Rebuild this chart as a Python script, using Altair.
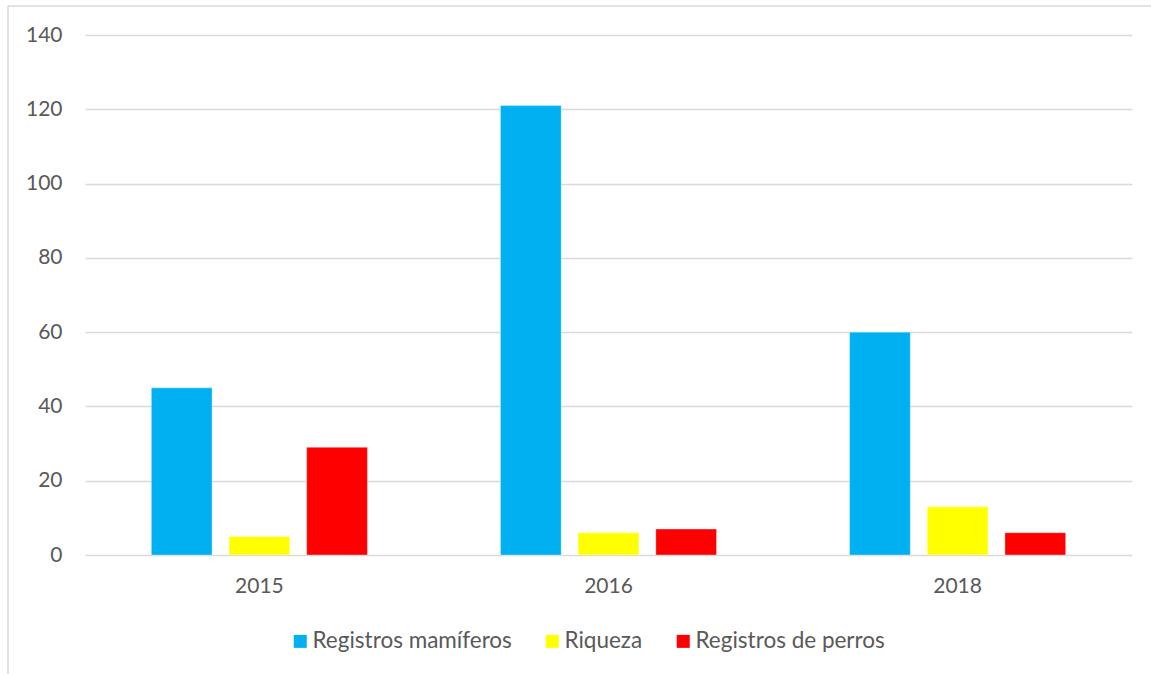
import altair as alt
import pandas as pd

years = ["2015", "2016", "2018"]
series = ["Registros mamíferos", "Riqueza", "Registros de perros"]
mamiferos = [45, 121, 60]
riqueza = [5, 6, 13]
perros = [29, 7, 6]
colors = ["#00B0F0", "#FFFF00", "#FF0000"]

rows = []
for i, y in enumerate(years):
    for s, vals in zip(series, [mamiferos, riqueza, perros]):
        rows.append({"year": y, "serie": s, "valor": vals[i]})
df = pd.DataFrame(rows)

FONT = "Lato"
TXT = "#595959"

bars = alt.Chart(df).mark_bar(stroke="white", strokeOpacity=0.35, strokeWidth=1).encode(
    x=alt.X("year:N", sort=years, title=None,
            scale=alt.Scale(paddingInner=0.381, paddingOuter=0.19),
            axis=alt.Axis(labelAngle=0, domain=False, ticks=False, labelPadding=20,
                          labelFontSize=21, labelColor=TXT, labelFont=FONT, grid=False)),
    xOffset=alt.XOffset("serie:N", sort=series,
                        scale=alt.Scale(paddingInner=0.218, paddingOuter=0)),
    y=alt.Y("valor:Q", title=None,
            scale=alt.Scale(domain=[0, 140]),
            axis=alt.Axis(values=[0, 20, 40, 60, 80, 100, 120, 140], domain=False, ticks=False,
                          labelPadding=23, labelFontSize=21, labelColor=TXT, labelFont=FONT,
                          gridColor="#D9D9D9", gridWidth=1.5)),
    color=alt.Color("serie:N", sort=series,
                    scale=alt.Scale(domain=series, range=colors),
                    legend=alt.Legend(title=None, orient="none", direction="horizontal",
                                      legendX=204, legendY=595, symbolType="square",
                                      symbolSize=169, symbolStrokeWidth=0, labelFontSize=22.5,
                                      labelColor=TXT, labelFont=FONT, labelOffset=1,
                                      labelLimit=0, columnPadding=29)),
)

border = alt.Chart(pd.DataFrame({"k": [0]})).mark_rule(color="#D9D9D9", strokeWidth=1.5).encode(
    x=alt.value(-77), x2=alt.value(-77), y=alt.value(-29), y2=alt.value(645)
)
border_top = alt.Chart(pd.DataFrame({"k": [0]})).mark_rule(color="#D9D9D9", strokeWidth=1.5).encode(
    x=alt.value(-77), x2=alt.value(1100), y=alt.value(-29), y2=alt.value(-29)
)

chart = alt.layer(border, border_top, bars).properties(
    width=1047, height=520,
    background="white",
    autosize=alt.AutoSizeParams(type="none"),
    padding={"left": 85, "top": 35, "right": 19, "bottom": 119},
).configure_view(strokeWidth=0)

chart.save("out.html", embed_options={"renderer": "svg", "actions": False})
